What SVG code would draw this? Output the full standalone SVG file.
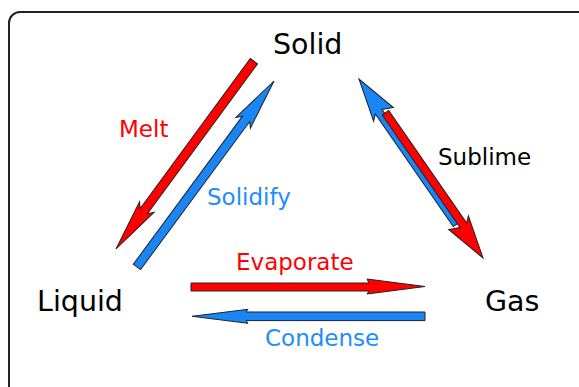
<svg xmlns="http://www.w3.org/2000/svg" width="579" height="387" viewBox="0 0 579 387">
<style>
.frame{fill:#fff;stroke:#222;stroke-width:2}
.node{font-family:"DejaVu Sans",sans-serif;font-size:28.5px;fill:#000}
.lbl{font-family:"DejaVu Sans",sans-serif;font-size:23px}
.red{fill:#ff0000}
.blue{fill:#1e8cff}
.ar{stroke:#222;stroke-width:1;stroke-linejoin:miter}
.ar.red{fill:#ff0000}
.ar.blue{fill:#1a86f5}
</style>
<rect width="579" height="387" fill="#fff"/>
<rect class="frame" x="9" y="12" width="580" height="400" rx="11"/>
<g id="connectors">
  <polygon id="melt" class="ar red" transform="translate(116,249) rotate(126.3)" points="0,0 -52,-9 -47,-4.5 -233,-4.5 -233,4.5 -47,4.5 -52,9"/>
  <polygon id="solidify" class="ar blue" transform="translate(274,81) rotate(-53.6)" points="0,0 -52,-9 -47,-4.5 -231,-4.5 -231,4.5 -47,4.5 -52,9"/>
  <polygon id="sublime-blue" class="ar blue" transform="translate(359,79) rotate(-124.7)" points="0,0 -43,-12 -38,-6.5 -175,-6.5 -175,1.5 -38,1.5 -43,12"/>
  <polygon id="sublime-red" class="ar red" transform="translate(483,258) rotate(55.3)" points="0,0 -43,-12 -38,-6.5 -175,-6.5 -175,1.5 -38,1.5 -43,12"/>
  <polygon id="evaporate" class="ar red" transform="translate(425,286.5)" points="0,0 -58,-7.5 -56,-3.5 -234,-3.5 -234,4.5 -56,4.5 -58,7.5"/>
  <polygon id="condense" class="ar blue" transform="translate(192,316.3) rotate(180)" points="0,0 -56,-7 -54,-4.3 -233,-4.3 -233,4.3 -54,4.3 -56,7"/>
</g>
<g id="solid"><text class="node" x="273" y="53.5">Solid</text></g>
<g id="liquid"><text class="node" x="37" y="311">Liquid</text></g>
<g id="gas"><text class="node" x="485" y="311">Gas</text></g>
<g id="labels">
  <text class="lbl red" x="119" y="137">Melt</text>
  <text class="lbl blue" x="207" y="205">Solidify</text>
  <text class="lbl" x="438" y="165" fill="#000">Sublime</text>
  <text class="lbl red" x="236" y="270">Evaporate</text>
  <text class="lbl blue" x="265" y="346">Condense</text>
</g>
</svg>
